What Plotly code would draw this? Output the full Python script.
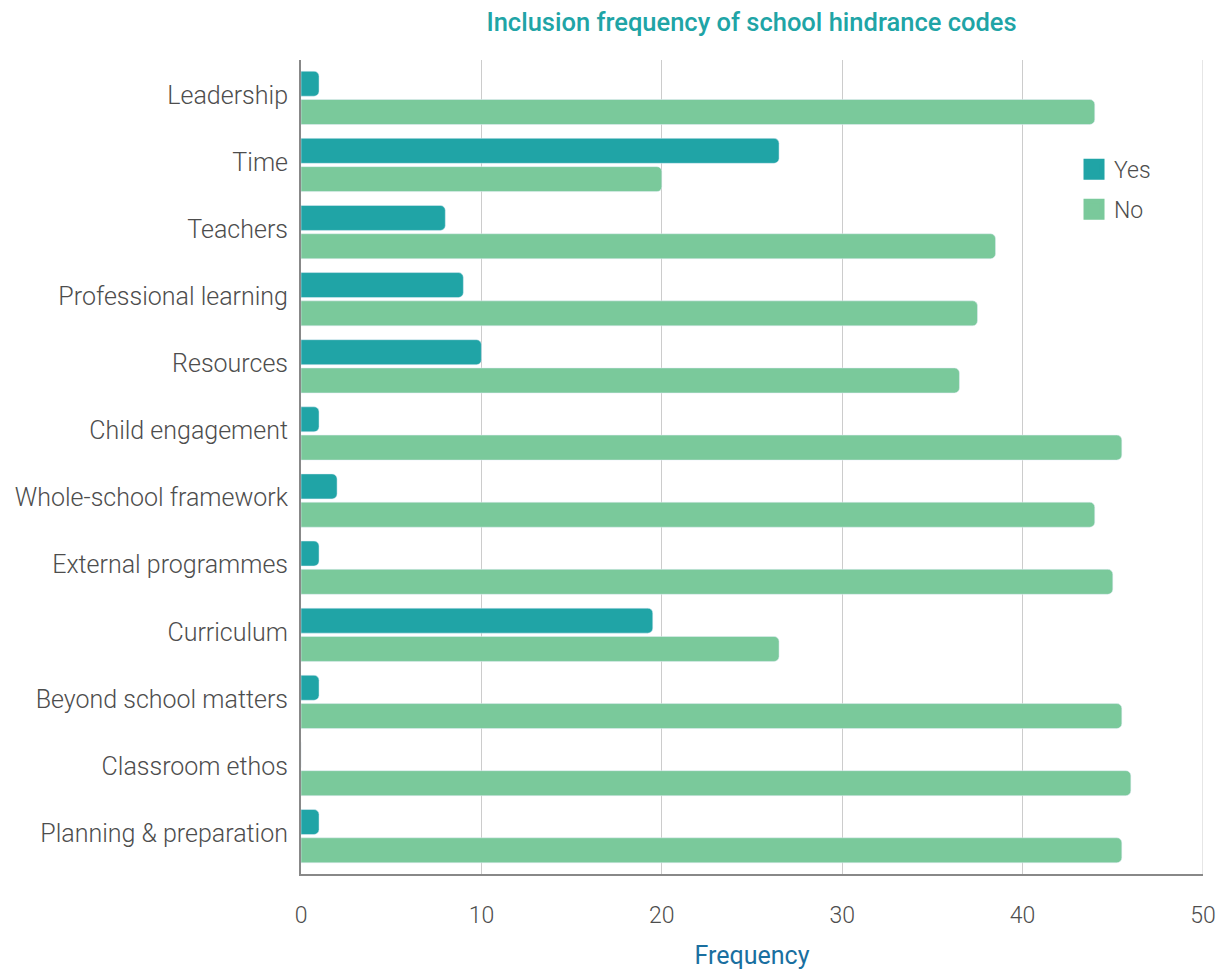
import plotly.graph_objects as go

categories = ["Leadership", "Time", "Teachers", "Professional learning", "Resources",
              "Child engagement", "Whole-school framework", "External programmes",
              "Curriculum", "Beyond school matters", "Classroom ethos", "Planning & preparation"]
yes_values = [1, 26.5, 8, 9, 10, 1, 2, 1, 19.5, 1, 0, 1]
no_values = [44, 20, 38.5, 37.5, 36.5, 45.5, 44, 45, 26.5, 45.5, 46, 45.5]
x_ticks = [0, 10, 20, 30, 40, 50]

YES_COLOR = "#20A4A6"
NO_COLOR = "#7AC99B"

fig = go.Figure()
fig.add_trace(go.Bar(y=categories, x=yes_values, name="Yes", orientation="h",
                     marker=dict(color=YES_COLOR, cornerradius=5), showlegend=False))
fig.add_trace(go.Bar(y=categories, x=no_values, name="No", orientation="h",
                     marker=dict(color=NO_COLOR, cornerradius=5), showlegend=False))
# legend-only entries with large square swatches
for name, col in [("Yes", YES_COLOR), ("No", NO_COLOR)]:
    fig.add_trace(go.Scatter(x=[None], y=[None], mode="markers", name=name,
                             legendgroup=name,
                             marker=dict(symbol="square", size=16, color=col,
                                         line=dict(color=col, width=5))))

n = len(categories)
pad = 0.064
fig.update_layout(
    width=1231, height=971,
    margin=dict(l=293, r=36, t=52, b=105, autoexpand=False),
    paper_bgcolor="white", plot_bgcolor="white",
    font=dict(family="Roboto Light, Roboto", size=25, color="#4D4D4D", weight=300),
    title=dict(text="Inclusion frequency of school hindrance codes",
               font=dict(family="Roboto", size=25.5, color=YES_COLOR, weight=500),
               x=0.604, xanchor="center", y=0.986, yanchor="middle"),
    barmode="group", bargap=0.157, bargroupgap=0.117,
    legend=dict(x=0.857, y=0.892, xanchor="left", yanchor="top",
                font=dict(size=23, color="#4D4D4D"), itemsizing="trace",
                traceorder="grouped", tracegroupgap=7,
                bgcolor="rgba(0,0,0,0)"),
    xaxis=dict(range=[0, 50], tickvals=x_ticks, showgrid=True, gridcolor="#CCCCCC",
               gridwidth=1, showline=True, linecolor="#888888", linewidth=1.5,
               zeroline=False, ticks="", ticklabelstandoff=20, automargin=False,
               tickfont=dict(size=23),
               title=dict(text="Frequency",
                          font=dict(family="Roboto", size=25, color="#1A6FA0", weight=400),
                          standoff=18)),
    yaxis=dict(range=[n - 0.5 + pad, -0.5 - pad], showline=True, linecolor="#888888",
               linewidth=2, showgrid=False, ticks="", ticklabelstandoff=6,
               ticklabelshift=3, automargin=False),
)
fig.add_shape(type="line", xref="x", yref="paper", x0=50, x1=50, y0=0, y1=1,
              line=dict(color="#CCCCCC", width=1), layer="below")

fig.write_html("out.html")
